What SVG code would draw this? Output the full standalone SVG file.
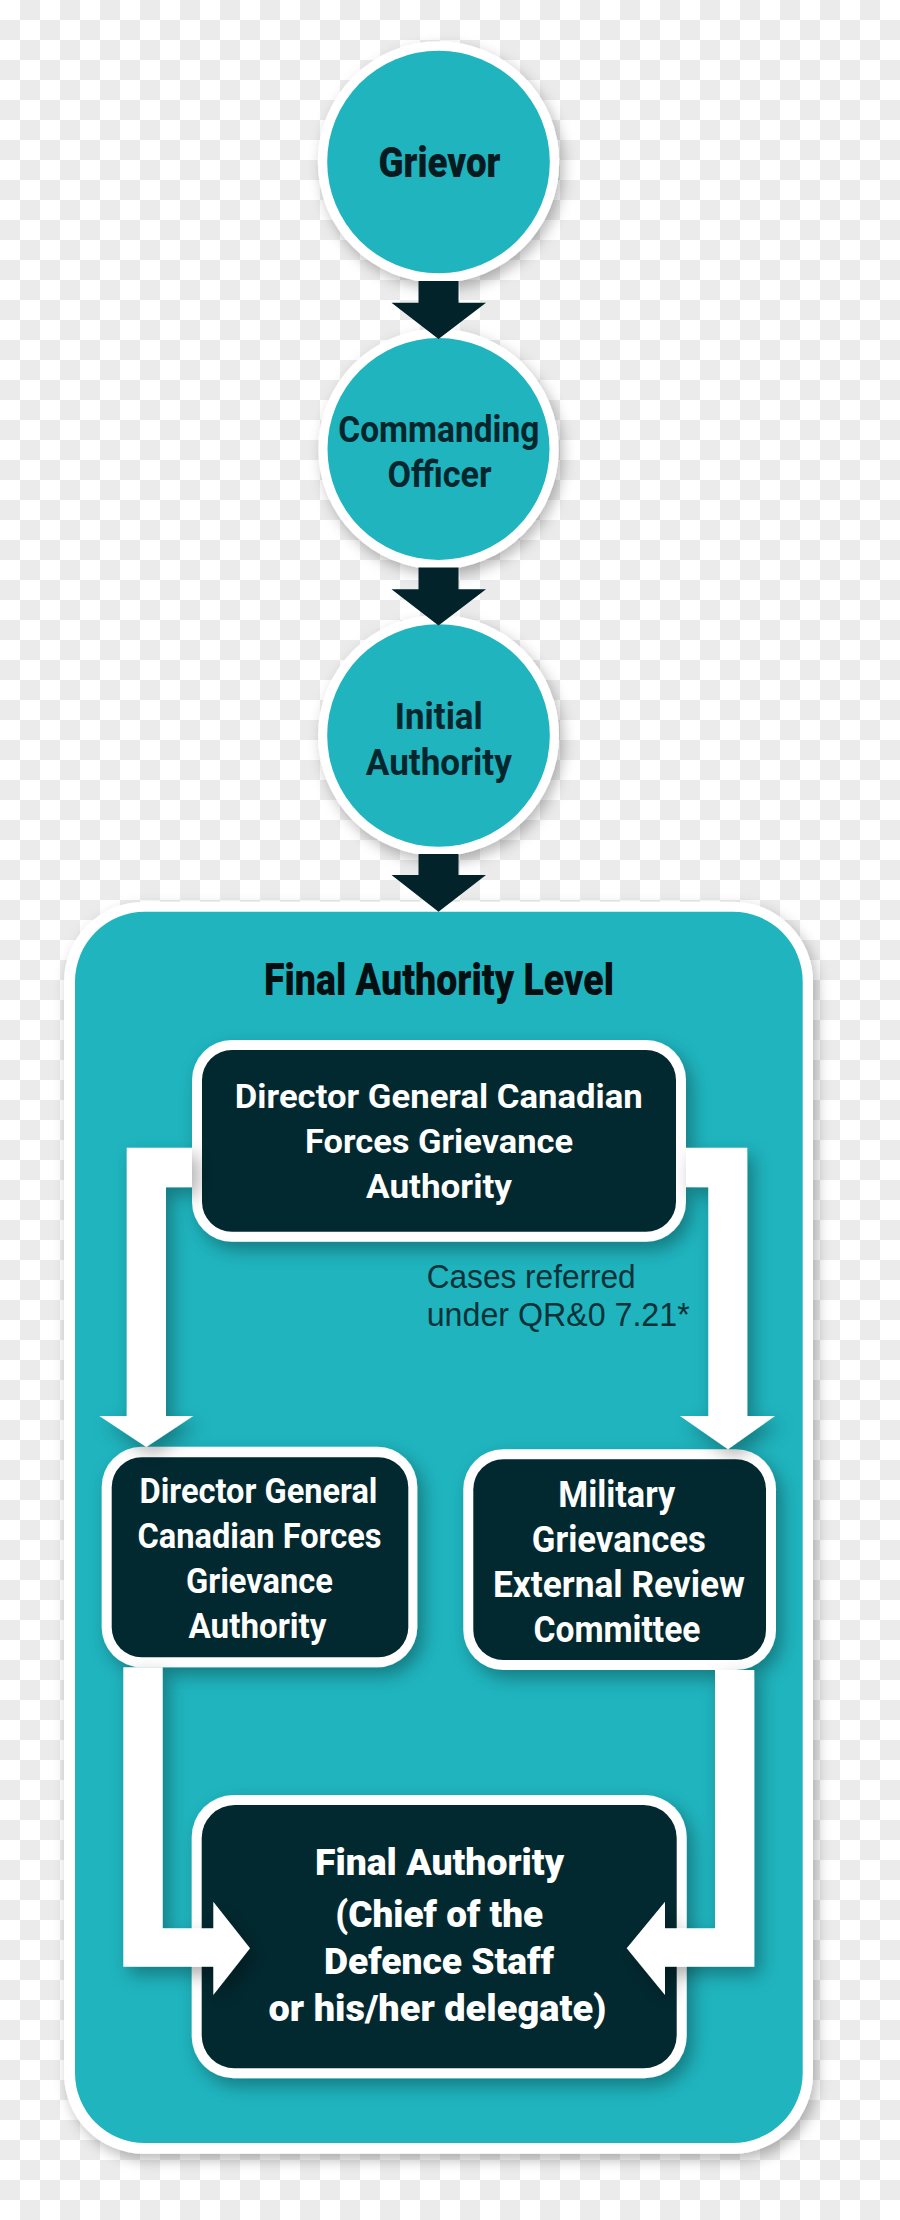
<svg xmlns="http://www.w3.org/2000/svg" width="900" height="2220" viewBox="0 0 900 2220">
<defs>
<pattern id="checker" width="40" height="40" patternUnits="userSpaceOnUse">
<rect width="40" height="40" fill="#ffffff"/>
<rect x="20" y="0" width="20" height="20" fill="#ebebeb"/>
<rect x="0" y="20" width="20" height="20" fill="#ebebeb"/>
</pattern>
<filter id="sh" x="-20%" y="-20%" width="140%" height="140%">
<feDropShadow dx="4" dy="6" stdDeviation="7" flood-color="#000000" flood-opacity="0.28"/>
</filter>
<filter id="shIn" x="-20%" y="-20%" width="140%" height="140%">
<feDropShadow dx="6" dy="8" stdDeviation="9" flood-color="#000000" flood-opacity="0.32"/>
</filter>
</defs>
<style>
.ring{fill:#ffffff}
.teal{fill:#1fb4be}
.dark{fill:#022930}
.darrow{fill:#03232a}
.warrow{fill:#ffffff}
.circ{font-family:Roboto,"Liberation Sans",sans-serif;font-weight:700;fill:#05262c;text-anchor:middle}
.heavy{font-family:Roboto,"Liberation Sans",sans-serif;font-weight:900;text-anchor:middle}
.box{font-family:Roboto,"Liberation Sans",sans-serif;font-weight:700;fill:#ffffff;text-anchor:middle}
.note{font-family:"Liberation Sans",Arial,sans-serif;font-weight:400;fill:#0a3238;font-size:33px}
</style>
<rect x="0" y="0" width="900" height="2220" fill="url(#checker)"/>

<g id="grievor">
<circle cx="438.5" cy="162" r="120.7" class="ring" filter="url(#sh)"/>
<circle cx="438.5" cy="162" r="111.3" class="teal"/>
<text x="439.5" y="176.7" class="heavy" font-size="42" fill="#061a1f" textLength="122" lengthAdjust="spacingAndGlyphs">Grievor</text>
</g>

<g id="commanding-officer">
<circle cx="438.5" cy="449" r="120.2" class="ring" filter="url(#sh)"/>
<circle cx="438.5" cy="449" r="111" class="teal"/>
<text x="438.8" y="442.3" class="circ" font-size="36" textLength="201" lengthAdjust="spacingAndGlyphs">Commanding</text>
<text x="439.5" y="487.3" class="circ" font-size="36" textLength="104" lengthAdjust="spacingAndGlyphs">Officer</text>
</g>

<g id="initial-authority">
<circle cx="438.5" cy="735.5" r="120.5" class="ring" filter="url(#sh)"/>
<circle cx="438.5" cy="735.5" r="111.3" class="teal"/>
<text x="438.8" y="729.3" class="circ" font-size="36" textLength="88" lengthAdjust="spacingAndGlyphs">Initial</text>
<text x="438.8" y="775" class="circ" font-size="36" textLength="146" lengthAdjust="spacingAndGlyphs">Authority</text>
</g>

<g id="final-authority-level">
<rect x="64" y="901.7" width="749" height="1252" rx="80" class="ring" filter="url(#sh)"/>
<rect x="75" y="911.7" width="727.7" height="1231.3" rx="70" class="teal"/>
<text x="439" y="995" class="heavy" font-size="45" fill="#050f12" textLength="350" lengthAdjust="spacingAndGlyphs">Final Authority Level</text>
</g>

<g id="dg-cfga-top">
<rect x="192" y="1040" width="494" height="201.7" rx="40" class="ring" filter="url(#shIn)"/>
<rect x="202" y="1050" width="474" height="181.7" rx="30" class="dark"/>
<text x="438.8" y="1108" class="box" font-size="34" textLength="408" lengthAdjust="spacingAndGlyphs">Director General Canadian</text>
<text x="439" y="1153.3" class="box" font-size="34" textLength="268" lengthAdjust="spacingAndGlyphs">Forces Grievance</text>
<text x="439" y="1198" class="box" font-size="34" textLength="146" lengthAdjust="spacingAndGlyphs">Authority</text>
</g>

<g id="dg-cfga-left">
<rect x="101.7" y="1446.7" width="315.6" height="220.6" rx="40" class="ring" filter="url(#shIn)"/>
<rect x="111.7" y="1457.3" width="296.6" height="200" rx="30" class="dark"/>
<text x="258.5" y="1503.3" class="box" font-size="35" textLength="238" lengthAdjust="spacingAndGlyphs">Director General</text>
<text x="259.5" y="1548.3" class="box" font-size="35" textLength="244" lengthAdjust="spacingAndGlyphs">Canadian Forces</text>
<text x="259.5" y="1593.3" class="box" font-size="35" textLength="147" lengthAdjust="spacingAndGlyphs">Grievance</text>
<text x="257.5" y="1638.3" class="box" font-size="35" textLength="138" lengthAdjust="spacingAndGlyphs">Authority</text>
</g>

<g id="mgerc">
<rect x="463.3" y="1449.3" width="312.7" height="220.7" rx="40" class="ring" filter="url(#shIn)"/>
<rect x="473.3" y="1459.3" width="292.7" height="200.7" rx="30" class="dark"/>
<text x="616.7" y="1506.7" class="box" font-size="36" textLength="117" lengthAdjust="spacingAndGlyphs">Military</text>
<text x="618.8" y="1551.7" class="box" font-size="36" textLength="174" lengthAdjust="spacingAndGlyphs">Grievances</text>
<text x="619" y="1596.7" class="box" font-size="36" textLength="252" lengthAdjust="spacingAndGlyphs">External Review</text>
<text x="617" y="1641.7" class="box" font-size="36" textLength="167" lengthAdjust="spacingAndGlyphs">Committee</text>
</g>

<g id="final-authority">
<rect x="191.7" y="1795" width="495" height="283.3" rx="42" class="ring" filter="url(#shIn)"/>
<rect x="201.7" y="1805" width="475" height="263.3" rx="33" class="dark"/>
<text x="439.5" y="1875" class="heavy" font-size="37" fill="#ffffff" textLength="249" lengthAdjust="spacingAndGlyphs">Final Authority</text>
<text x="439.2" y="1926.7" class="heavy" font-size="37" fill="#ffffff" textLength="208" lengthAdjust="spacingAndGlyphs">(Chief of the</text>
<text x="439" y="1974.3" class="heavy" font-size="37" fill="#ffffff" textLength="230" lengthAdjust="spacingAndGlyphs">Defence Staff</text>
<text x="437.5" y="2020.7" class="heavy" font-size="37" fill="#ffffff" textLength="338" lengthAdjust="spacingAndGlyphs">or his/her delegate)</text>
</g>

<g id="connectors">
<path class="darrow" d="M418.5,281 L458.5,281 L458.5,302.7 L486,302.7 L438.5,339 L391.5,302.7 L418.5,302.7 Z"/>
<path class="darrow" d="M418.5,567.5 L458.5,567.5 L458.5,589.3 L486,589.3 L438.5,625.5 L391.5,589.3 L418.5,589.3 Z"/>
<path class="darrow" d="M418.5,854 L458.5,854 L458.5,875 L486,875 L438.5,911.7 L391.5,875 L418.5,875 Z"/>
<g filter="url(#shIn)">
<path class="warrow" d="M192,1147.7 L126.7,1147.7 L126.7,1416 L99.3,1416 L146.3,1447 L193.3,1416 L166,1416 L166,1187.3 L192,1187.3 Z"/>
<path class="warrow" d="M686,1147.7 L747.3,1147.7 L747.3,1416 L775,1416 L728,1449.3 L680,1416 L708.3,1416 L708.3,1187.3 L686,1187.3 Z"/>
<path class="warrow" d="M123.3,1667.3 L162.7,1667.3 L162.7,1928.3 L213.3,1928.3 L213.3,1901.7 L250,1948.3 L213.3,1995 L213.3,1966.7 L123.3,1966.7 Z"/>
<path class="warrow" d="M715,1670 L754.3,1670 L754.3,1966.7 L665,1966.7 L665,1995 L626.7,1948.3 L665,1901.7 L665,1928.3 L715,1928.3 Z"/>
</g>
<text x="426.7" y="1287.5" class="note" textLength="209" lengthAdjust="spacingAndGlyphs">Cases referred</text>
<text x="426.7" y="1325.5" class="note" textLength="263" lengthAdjust="spacingAndGlyphs">under QR&amp;0 7.21*</text>
</g>
</svg>
